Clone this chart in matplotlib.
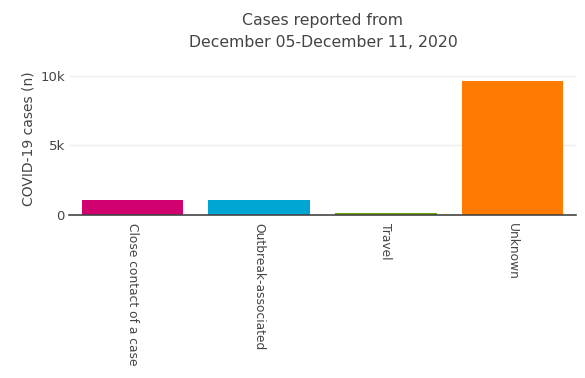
import matplotlib
matplotlib.use("Agg")
import matplotlib.pyplot as plt

categories = ["Close contact of a case", "Outbreak-associated", "Travel", "Unknown"]
cases = [1030, 1030, 90, 9600]
colors = ["#d1006f", "#00a6d3", "#6aa800", "#ff7a00"]
yticks = [0, 5000, 10000]
yticklabels = ["0", "5k", "10k"]

plt.rcParams['font.family'] = ['DejaVu Sans']
fig = plt.figure(figsize=(5.85, 3.78), dpi=100)
L, R, B, T = 69, 576, 214.5, 62
ax = fig.add_axes([L/585, 1-B/378, (R-L)/585, (B-T)/378])

x = list(range(len(categories)))
ax.bar(x, cases, width=0.8, color=colors, edgecolor="none", zorder=3)
ax.set_xlim(-0.5, len(categories)-0.5)
ax.set_ylim(0, 11000)
ax.set_yticks(yticks)
ax.set_yticklabels(yticklabels, color="#444444", fontsize=9.5)
ax.set_xticks(x)
ax.set_xticklabels(categories, rotation=270, color="#444444", fontsize=8.8, va="top", ha="center")
ax.grid(axis="y", color="#eeeeee", linewidth=1, zorder=0)
for s in ["top", "right", "left"]:
    ax.spines[s].set_visible(False)
ax.spines["bottom"].set_color("#444444")
ax.spines["bottom"].set_linewidth(1.2)
ax.spines["bottom"].set_zorder(4)
ax.tick_params(axis="x", length=0, pad=6)
ax.tick_params(axis="y", length=0, pad=3)
ax.set_ylabel("COVID-19 cases (n)", color="#444444", fontsize=10)
ax.yaxis.set_label_coords((36 - L) / (R - L), 0.5)
fig.text(323/585, 1-31.5/378, "Cases reported from\nDecember 05-December 11, 2020",
         ha="center", va="center", color="#444444", fontsize=11.3, linespacing=1.6)
fig.savefig("out.png", dpi=100)
